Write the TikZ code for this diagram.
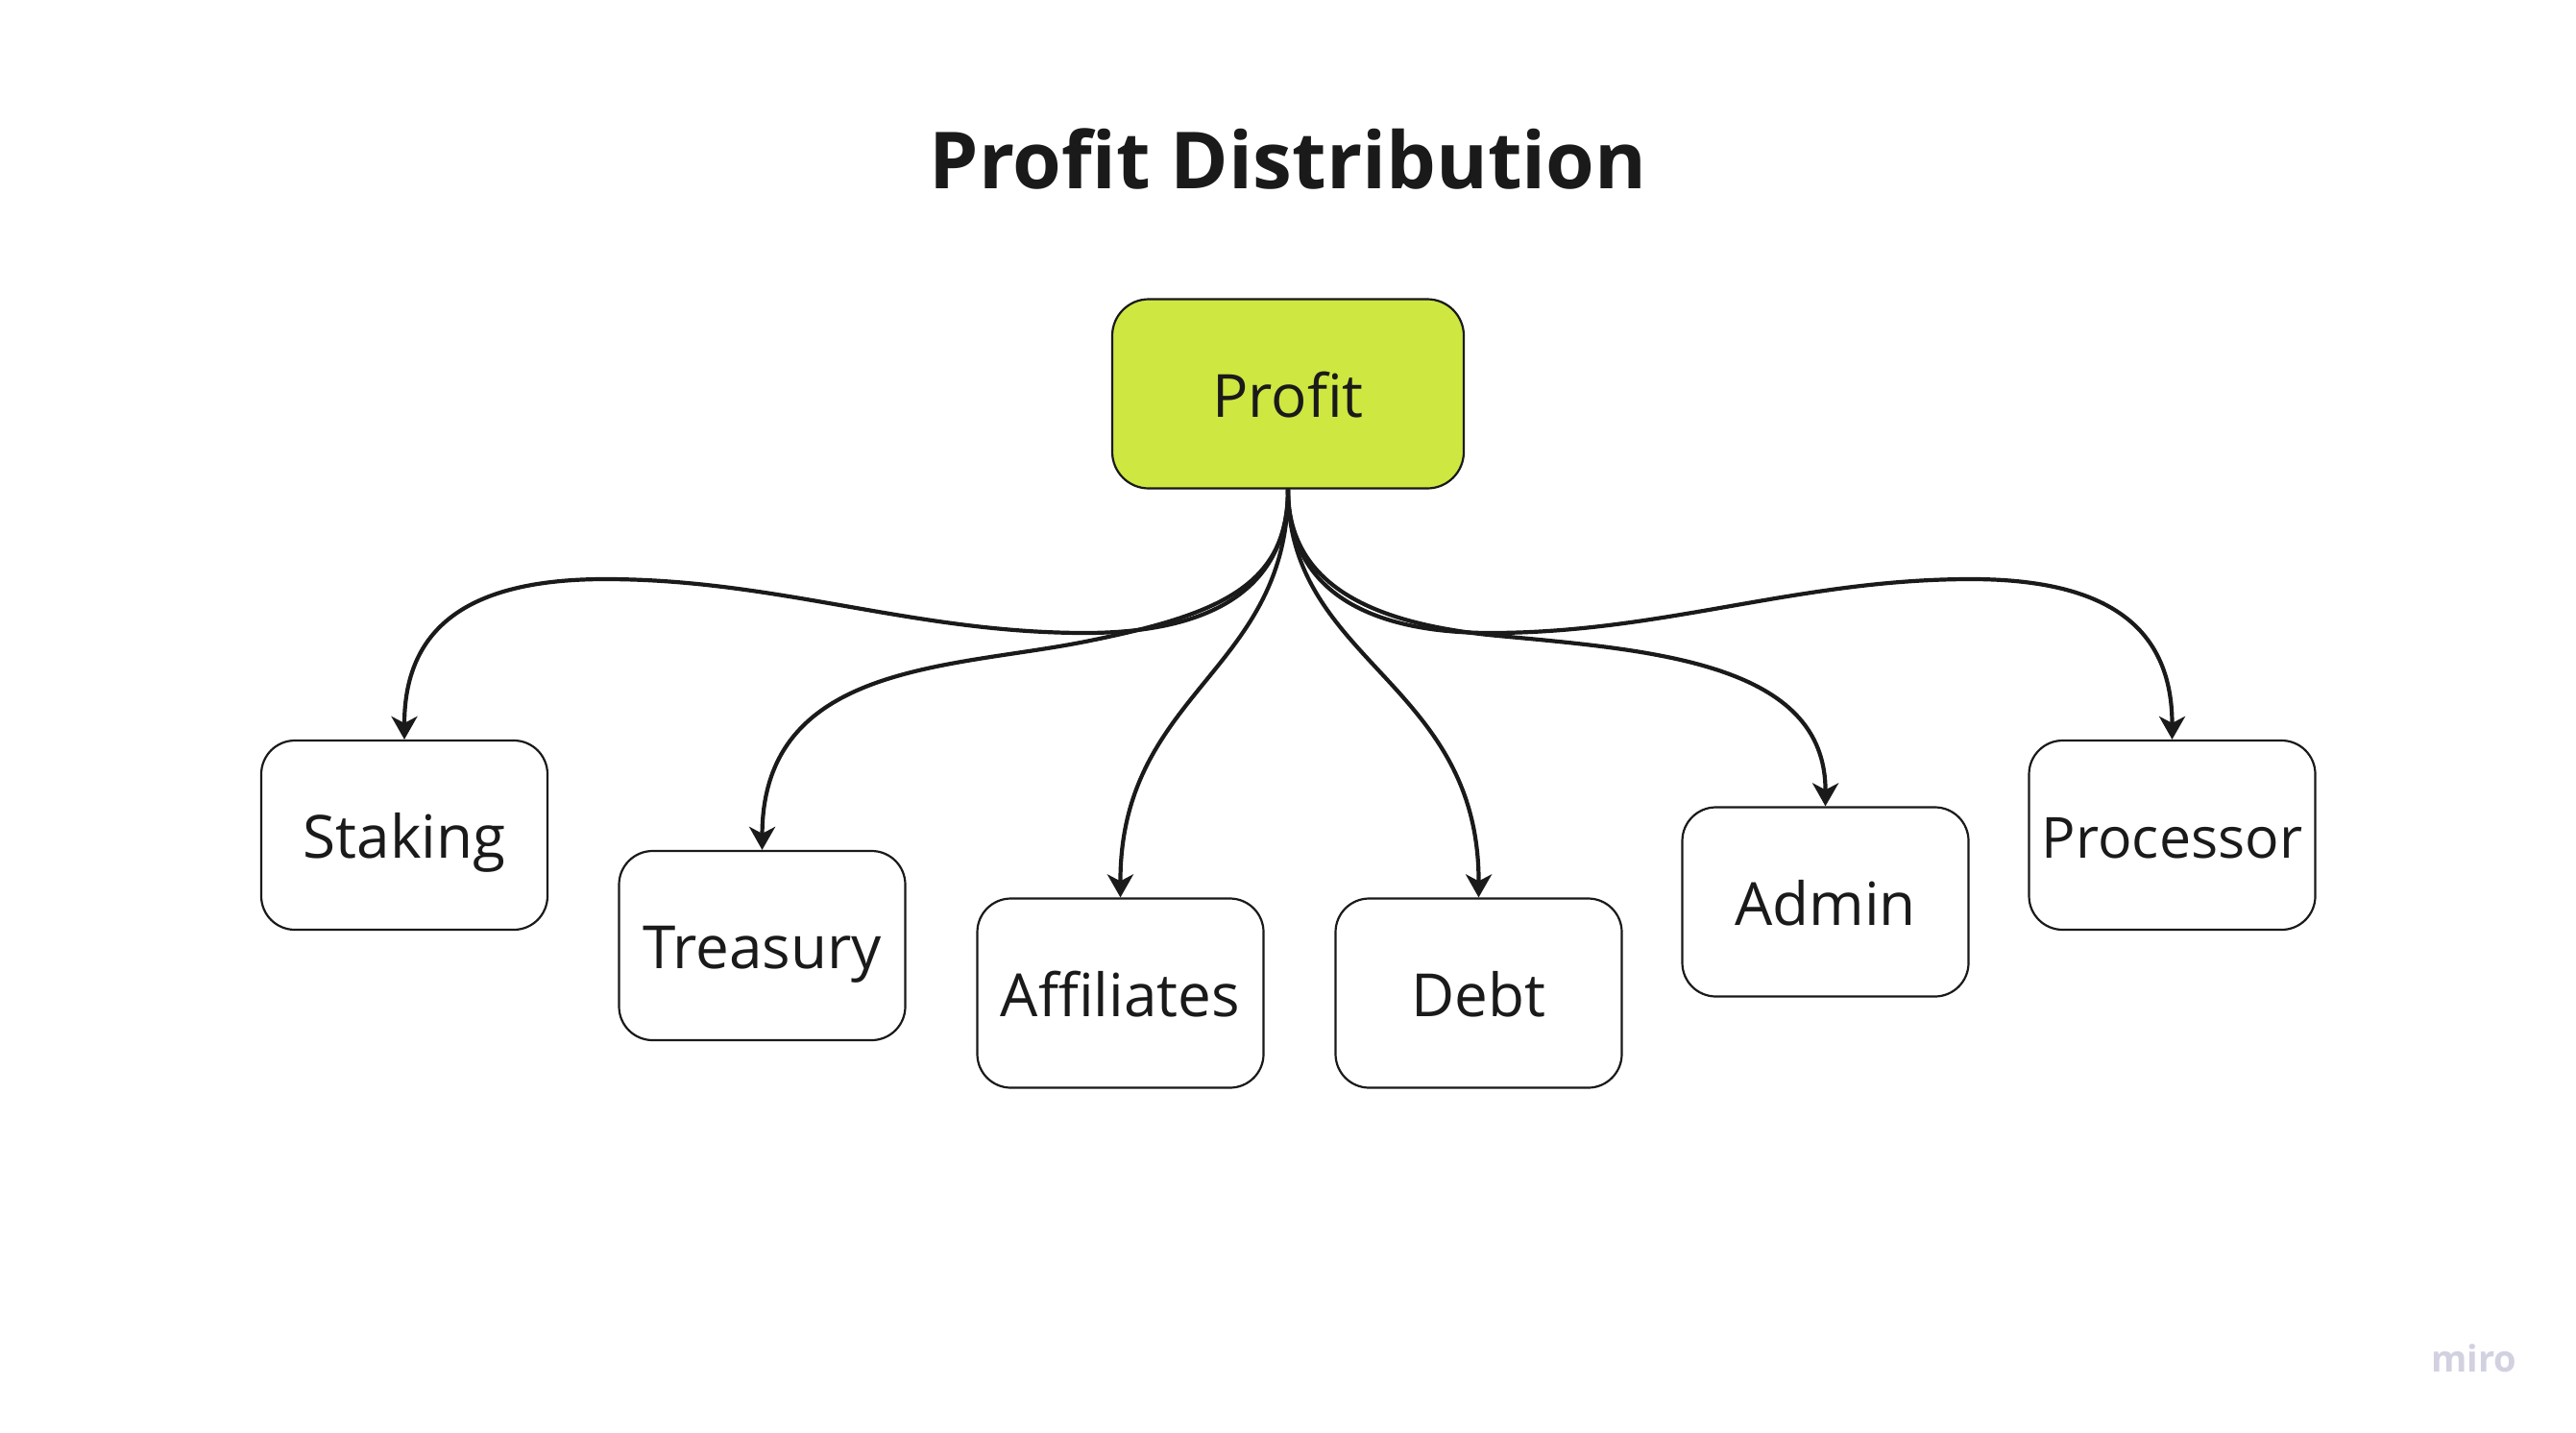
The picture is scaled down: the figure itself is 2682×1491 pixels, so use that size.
\documentclass[tikz,border=0pt]{standalone}
\usepackage{fontspec}
\setmainfont{Open Sans}
\usetikzlibrary{arrows.meta}
\definecolor{ink}{HTML}{1A1A1A}
\definecolor{lime}{HTML}{CEE741}
\definecolor{miroc}{HTML}{D2D1E0}
\tikzset{
  box/.style={draw=ink, line width=2.2pt, rounded corners=35pt, fill=white,
    minimum width=298pt, minimum height=197pt, inner sep=0pt,
    text=ink, font=\fontsize{62}{62}\selectfont, text height=48pt, text depth=0pt},
  rootbox/.style={box, fill=lime, minimum width=366pt, rounded corners=38pt},
  conn/.style={draw=ink, line width=4.2pt,
    -{Stealth[length=24pt, width=27pt, inset=7pt]}},
}
\begin{document}
\begin{tikzpicture}[x=1pt, y=-1pt]
\useasboundingbox[fill=white] (0,0) rectangle (2682,1491);
\node[text=ink, font=\fontsize{82}{82}\bfseries\selectfont, anchor=base] (title) at (1341,196) {Profit Distribution};
\node[rootbox] (profit) at (1341,410) {Profit};
\node[box] (staking) at (421,869.5) {Staking};
\node[box] (treasury) at (793.5,984.5) {Treasury};
\node[box] (affiliates) at (1166.5,1034) {Affiliates};
\node[box] (debt) at (1539.5,1034) {Debt};
\node[box] (admin) at (1900.5,939) {Admin};
\node[box, font=\fontsize{59}{59}\selectfont] (processor) at (2261.5,869.5) {Processor};
\node[text=miroc, font=\fontsize{38}{38}\bfseries\selectfont, anchor=base] (miro) at (2576,1428) {miro};
% connectors
\draw[conn] (profit.south) .. controls (1341,620) and (1250,659) .. (1130,659)
  .. controls (950,659) and (810,603) .. (630,603)
  .. controls (485,603) and (421,655) .. (staking.north);
\draw[conn] (profit.south) .. controls (1341,610) and (1270,640) .. (1130,668)
  .. controls (990,696) and (794,690) .. (treasury.north);
\draw[conn] (profit.south) .. controls (1341,700) and (1166,720) .. (affiliates.north);
\draw[conn] (profit.south) .. controls (1341,690) and (1540,710) .. (debt.north);
\draw[conn] (profit.south) .. controls (1341,610) and (1430,650) .. (1560,662)
  .. controls (1720,677) and (1901,690) .. (admin.north);
\draw[conn] (profit.south) .. controls (1341,620) and (1432,659) .. (1552,659)
  .. controls (1732,659) and (1872,603) .. (2052,603)
  .. controls (2197,603) and (2261.5,655) .. (processor.north);
\end{tikzpicture}
\end{document}
